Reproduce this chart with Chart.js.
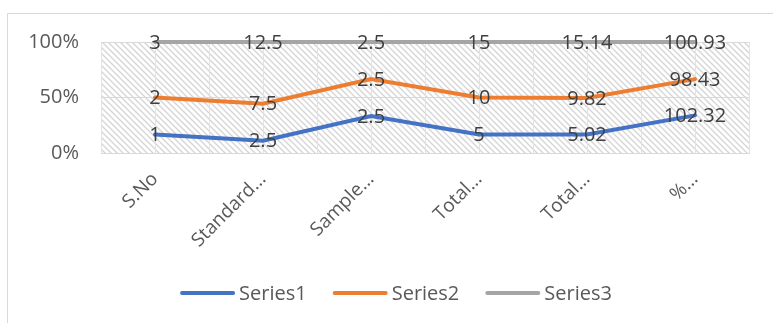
<!DOCTYPE html>
<html>
<head>
<meta charset="utf-8">
<script src="https://cdn.jsdelivr.net/npm/chart.js@4.4.1/dist/chart.umd.min.js"></script>
<style>
  html, body { margin: 0; padding: 0; background: #fff; }
  #wrap { position: relative; width: 773px; height: 323px; }
</style>
</head>
<body>
<div id="wrap"><canvas id="chart" width="773" height="323"></canvas></div>
<script>
const categories = ["S.No", "Standard...", "Sample...", "Total...", "Total...", "%..."];
const series1 = [1, 2.5, 2.5, 5, 5.02, 102.32];
const series2 = [2, 7.5, 2.5, 10, 9.82, 98.43];
const series3 = [3, 12.5, 2.5, 15, 15.14, 100.93];
const seriesNames = ["Series1", "Series2", "Series3"];
const yTicks = [0, 0.5, 1];

const colors = ["#4472C4", "#ED7D31", "#A5A5A5"];
const textColor = "#595959";
const FONT = "'Open Sans', 'Liberation Sans', sans-serif";

// 100% stacked: each point is the running total divided by the column total
const allSeries = [series1, series2, series3];
const totals = categories.map((c, i) => allSeries.reduce((acc, s) => acc + s[i], 0));
function stacked(upto) {
  return categories.map((c, i) => {
    let sum = 0;
    for (let k = 0; k <= upto; k++) sum += allSeries[k][i];
    return sum / totals[i];
  });
}

// hatch pattern for the plot area
function makeHatch() {
  const s = 6;
  const c = document.createElement("canvas");
  c.width = s; c.height = s;
  const g = c.getContext("2d");
  g.strokeStyle = "#d4d4d4";
  g.lineWidth = 1.3;
  g.beginPath();
  g.moveTo(-1, -1); g.lineTo(s + 1, s + 1);
  g.moveTo(-1, s - 1); g.lineTo(1, s + 1);
  g.moveTo(s - 1, -1); g.lineTo(s + 1, 1);
  g.stroke();
  return c;
}

const backgroundPlugin = {
  id: "background",
  beforeDraw(chart) {
    const ctx = chart.ctx;
    const a = chart.chartArea;
    ctx.save();
    // outer chart border
    ctx.strokeStyle = "#d9d9d9";
    ctx.lineWidth = 1;
    ctx.beginPath();
    ctx.moveTo(7.5, 323);
    ctx.lineTo(7.5, 13.5);
    ctx.lineTo(773, 13.5);
    ctx.stroke();
    // hatched plot area
    ctx.fillStyle = ctx.createPattern(makeHatch(), "repeat");
    ctx.fillRect(a.left, a.top, a.right - a.left, a.bottom - a.top);
    ctx.restore();
  }
};

const labelPlugin = {
  id: "pointLabels",
  afterDatasetsDraw(chart) {
    const ctx = chart.ctx;
    ctx.save();
    ctx.font = "20px " + FONT;
    ctx.fillStyle = "#404040";
    ctx.textAlign = "center";
    ctx.textBaseline = "middle";
    chart.data.datasets.forEach((ds, di) => {
      const meta = chart.getDatasetMeta(di);
      meta.data.forEach((pt, i) => {
        ctx.fillText(String(ds.raw[i]), pt.x, pt.y + 1);
      });
    });
    ctx.restore();
  }
};

// legend drawn by hand so spacing can match the original
const legendPlugin = {
  id: "lineLegend",
  afterDraw(chart) {
    const ctx = chart.ctx;
    const y = 293;
    const sw = 55, gap = 4, itemGap = 26;
    ctx.save();
    ctx.font = "20px " + FONT;
    ctx.textBaseline = "middle";
    ctx.textAlign = "left";
    const items = chart.data.datasets.map(ds => ({
      text: ds.label, color: ds.borderColor, w: ctx.measureText(ds.label).width
    }));
    let total = 0;
    items.forEach((it, i) => { total += sw + gap + it.w + (i < items.length - 1 ? itemGap : 0); });
    let x = 396 - total / 2;
    items.forEach(it => {
      ctx.strokeStyle = it.color;
      ctx.lineWidth = 4;
      ctx.lineCap = "round";
      ctx.beginPath();
      ctx.moveTo(x + 2, y);
      ctx.lineTo(x + sw - 2, y);
      ctx.stroke();
      ctx.fillStyle = textColor;
      ctx.fillText(it.text, x + sw + gap, y + 1);
      x += sw + gap + it.w + itemGap;
    });
    ctx.restore();
  }
};

const datasets = allSeries.map((s, k) => ({
  label: seriesNames[k],
  data: stacked(k),
  raw: s,
  borderColor: colors[k],
  backgroundColor: colors[k],
  borderWidth: 4,
  borderCapStyle: "round",
  pointRadius: 0,
  tension: 0,
  clip: false
}));

new Chart(document.getElementById("chart"), {
  type: "line",
  data: { labels: categories, datasets: datasets },
  plugins: [backgroundPlugin, labelPlugin, legendPlugin],
  options: {
    responsive: false,
    animation: false,
    layout: { padding: { top: 42, right: 24, left: 0, bottom: 0 } },
    plugins: {
      tooltip: { enabled: false },
      legend: { display: false }
    },
    scales: {
      x: {
        type: "category",
        offset: true,
        grid: { offset: false, color: "#e3e3e3", drawTicks: false },
        border: { color: "#d9d9d9" },
        ticks: {
          color: textColor,
          font: { family: FONT, size: 19 },
          minRotation: 45,
          maxRotation: 45,
          autoSkip: false,
          padding: 15
        },
        afterFit(scale) { scale.height = 323 - 153; }
      },
      xc: {
        type: "category",
        position: "top",
        offset: true,
        grid: { offset: true, color: "#e3e3e3", drawTicks: false },
        border: { display: false },
        ticks: { display: false },
        afterFit(scale) { scale.height = 0; }
      },
      y: {
        min: 0,
        max: 1,
        afterBuildTicks(scale) { scale.ticks = yTicks.map(v => ({ value: v })); },
        grid: { color: "#d9d9d9", drawTicks: false },
        border: { display: false },
        ticks: {
          color: textColor,
          font: { family: FONT, size: 20 },
          padding: 22,
          callback: v => Math.round(v * 100) + "%"
        },
        afterFit(scale) { scale.width = 101; }
      }
    }
  }
});
</script>
</body>
</html>
